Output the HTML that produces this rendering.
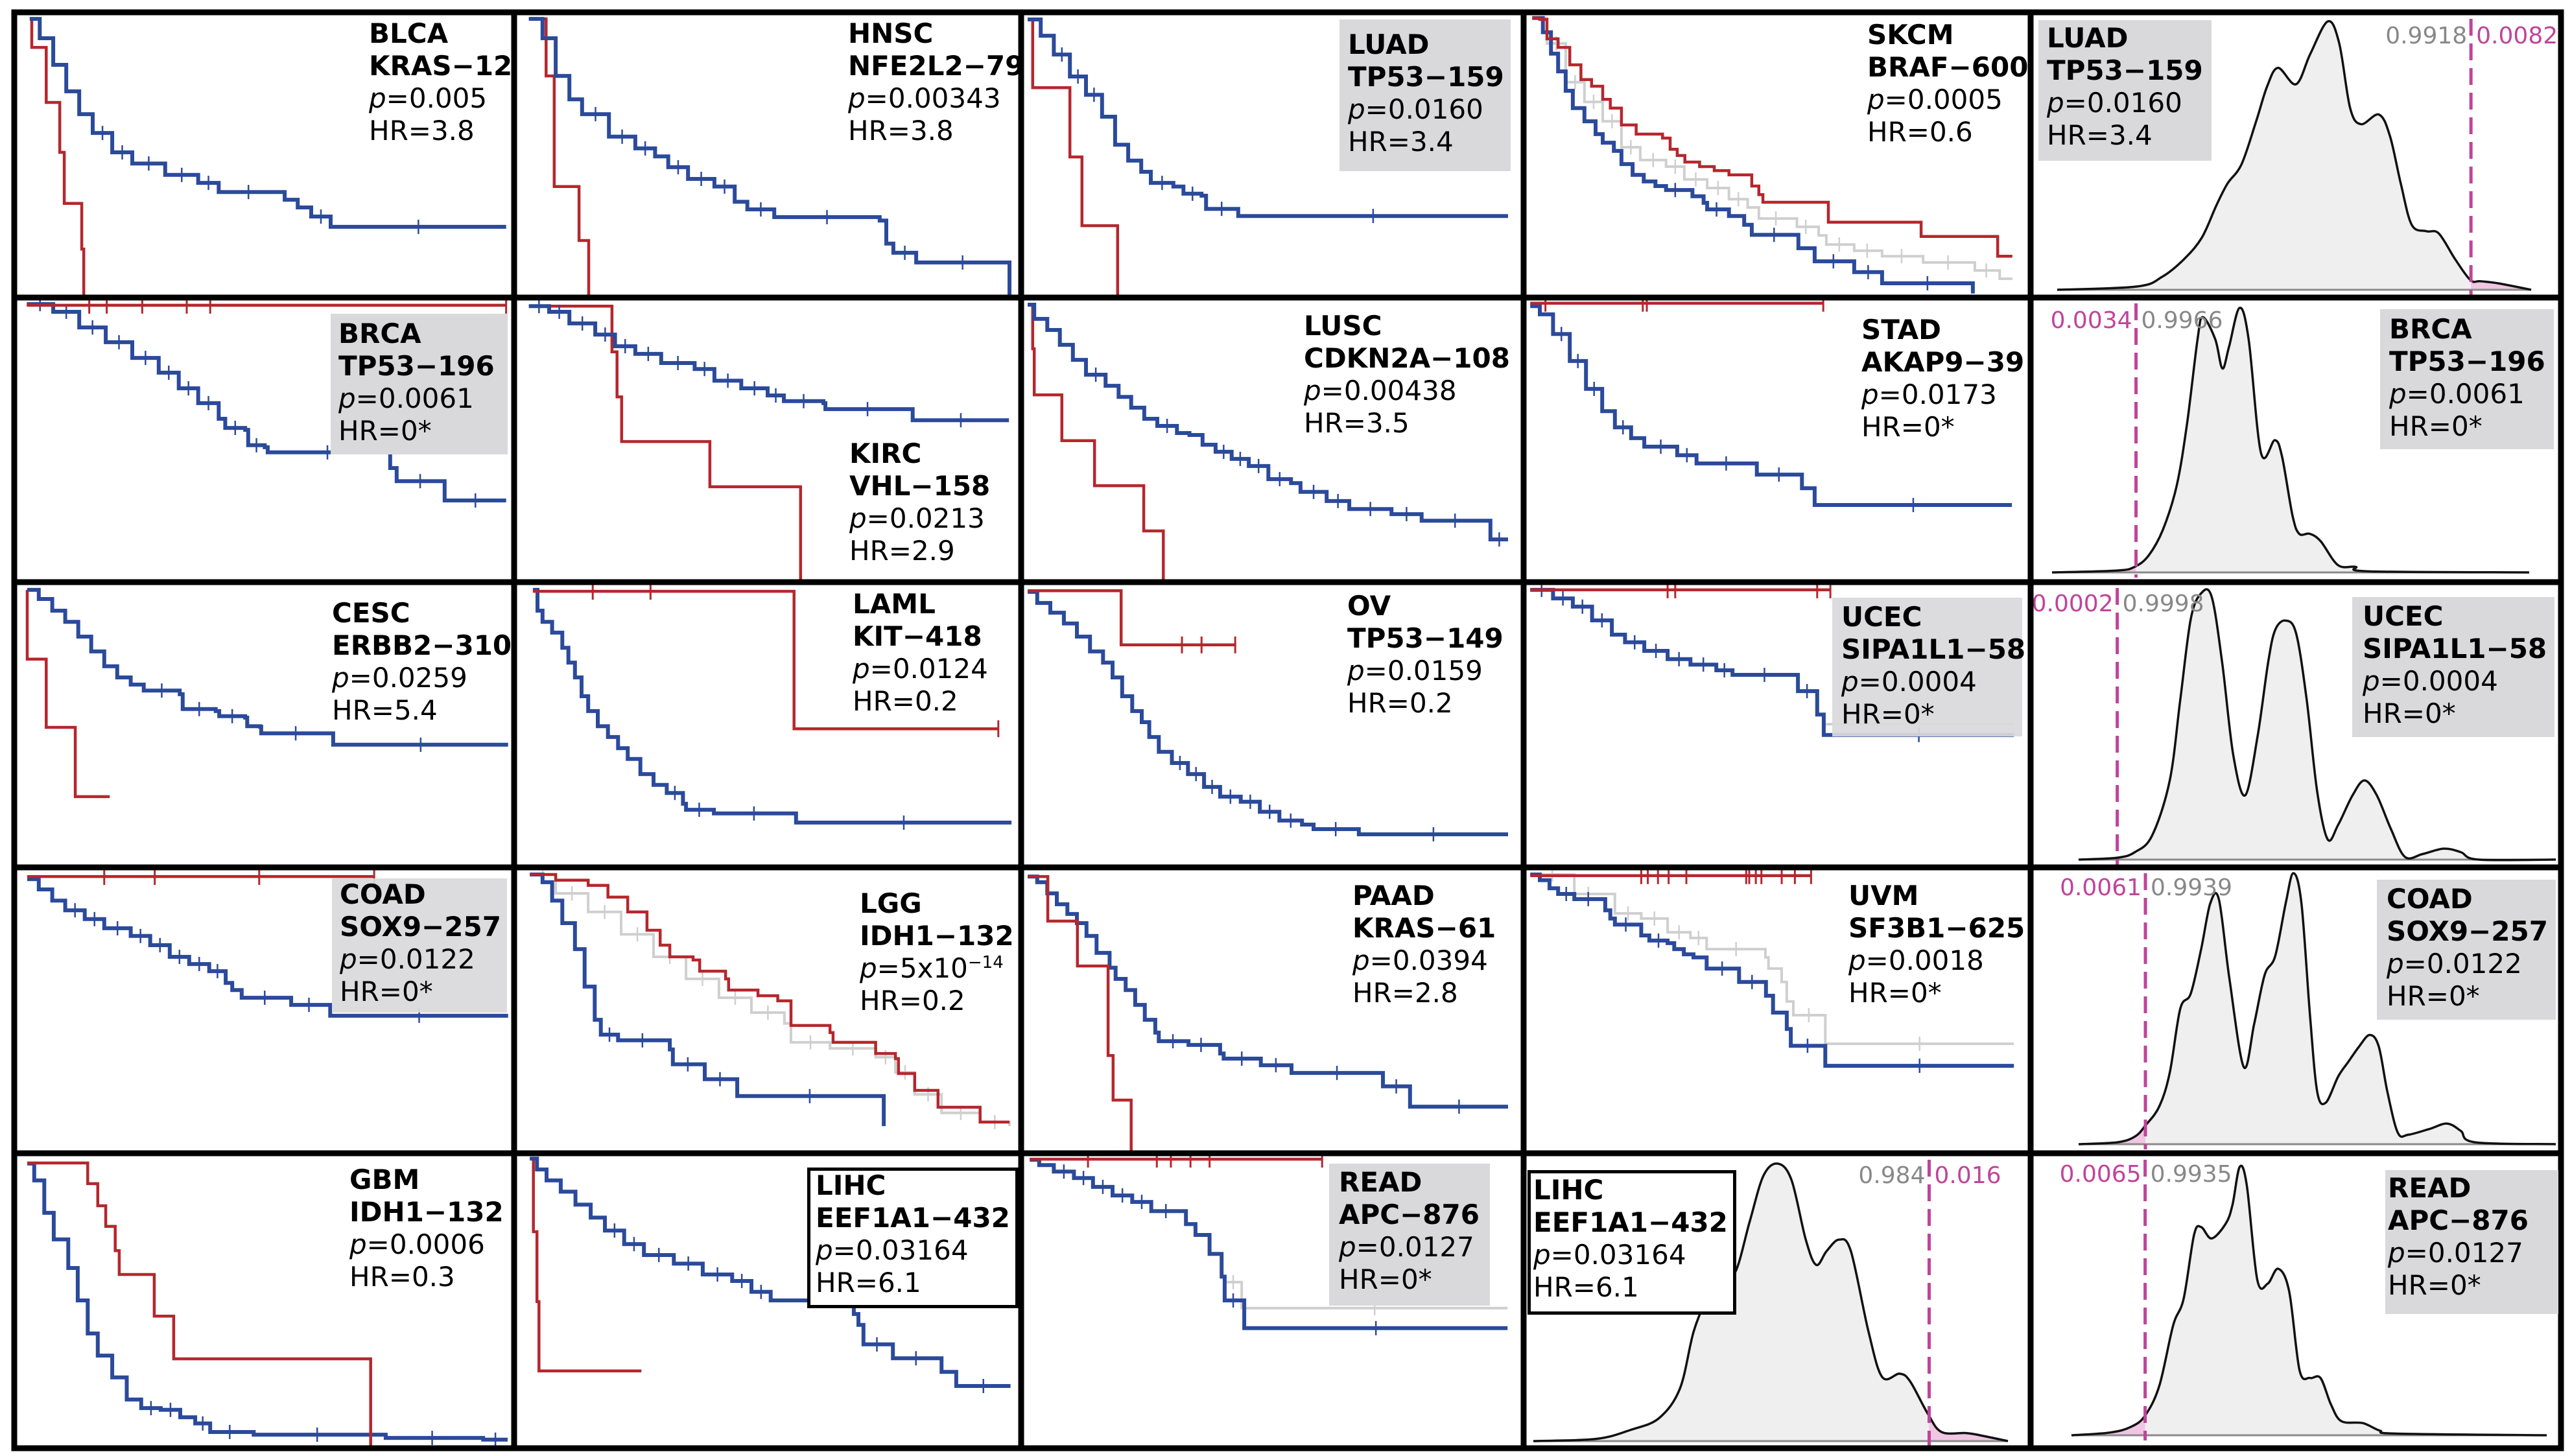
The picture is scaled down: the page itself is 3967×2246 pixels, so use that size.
<!DOCTYPE html>
<html><head><meta charset="utf-8">
<style>
html,body{margin:0;padding:0;background:#fff;}
#root{position:relative;width:3967px;height:2246px;overflow:hidden;background:#fff;}
svg{position:absolute;left:0;top:0;}
.lbl{position:absolute;font-family:"DejaVu Sans","Liberation Sans",sans-serif;font-size:42px;line-height:50px;color:#000;white-space:nowrap;}
.lbl b{font-weight:bold;}
.box{position:absolute;background:#d9d9db;}
.bbox{position:absolute;background:#fff;border:5px solid #000;box-sizing:border-box;}
</style></head>
<body>
<div id="root">
<svg id="chart" width="3967" height="2246" viewBox="0 0 3967 2246"></svg>

<div class="box" style="left:2066px;top:30px;width:264px;height:234px"></div>
<div class="box" style="left:3144px;top:31px;width:267px;height:217px"></div>
<div class="box" style="left:510px;top:484px;width:273px;height:217px"></div>
<div class="box" style="left:3671px;top:477px;width:268px;height:216px"></div>
<div class="box" style="left:2826px;top:922px;width:293px;height:214px;opacity:.93"></div>
<div class="box" style="left:3628px;top:921px;width:312px;height:216px"></div>
<div class="box" style="left:512px;top:1355px;width:270px;height:207px;opacity:.93"></div>
<div class="box" style="left:3666px;top:1357px;width:276px;height:216px"></div>
<div class="box" style="left:2050px;top:1795px;width:248px;height:219px"></div>
<div class="box" style="left:3679px;top:1805px;width:267px;height:222px"></div>
<div class="bbox" style="left:1245px;top:1801px;width:326px;height:217px"></div>
<div class="bbox" style="left:2356px;top:1805px;width:322px;height:223px"></div>

<div class="lbl" style="left:569px;top:27px"><b>BLCA</b><br><b>KRAS−12</b><br><i>p</i>=0.005<br>HR=3.8</div>
<div class="lbl" style="left:1308px;top:27px"><b>HNSC</b><br><b>NFE2L2−79</b><br><i>p</i>=0.00343<br>HR=3.8</div>
<div class="lbl" style="left:2079px;top:44px"><b>LUAD</b><br><b>TP53−159</b><br><i>p</i>=0.0160<br>HR=3.4</div>
<div class="lbl" style="left:2880px;top:29px"><b>SKCM</b><br><b>BRAF−600</b><br><i>p</i>=0.0005<br>HR=0.6</div>
<div class="lbl" style="left:3157px;top:34px"><b>LUAD</b><br><b>TP53−159</b><br><i>p</i>=0.0160<br>HR=3.4</div>

<div class="lbl" style="left:522px;top:490px"><b>BRCA</b><br><b>TP53−196</b><br><i>p</i>=0.0061<br>HR=0*</div>
<div class="lbl" style="left:1310px;top:675px"><b>KIRC</b><br><b>VHL−158</b><br><i>p</i>=0.0213<br>HR=2.9</div>
<div class="lbl" style="left:2011px;top:478px"><b>LUSC</b><br><b>CDKN2A−108</b><br><i>p</i>=0.00438<br>HR=3.5</div>
<div class="lbl" style="left:2871px;top:484px"><b>STAD</b><br><b>AKAP9−39</b><br><i>p</i>=0.0173<br>HR=0*</div>
<div class="lbl" style="left:3685px;top:483px"><b>BRCA</b><br><b>TP53−196</b><br><i>p</i>=0.0061<br>HR=0*</div>

<div class="lbl" style="left:512px;top:921px"><b>CESC</b><br><b>ERBB2−310</b><br><i>p</i>=0.0259<br>HR=5.4</div>
<div class="lbl" style="left:1315px;top:907px"><b>LAML</b><br><b>KIT−418</b><br><i>p</i>=0.0124<br>HR=0.2</div>
<div class="lbl" style="left:2078px;top:910px"><b>OV</b><br><b>TP53−149</b><br><i>p</i>=0.0159<br>HR=0.2</div>
<div class="lbl" style="left:2840px;top:927px"><b>UCEC</b><br><b>SIPA1L1−58</b><br><i>p</i>=0.0004<br>HR=0*</div>
<div class="lbl" style="left:3644px;top:926px"><b>UCEC</b><br><b>SIPA1L1−58</b><br><i>p</i>=0.0004<br>HR=0*</div>

<div class="lbl" style="left:524px;top:1355px"><b>COAD</b><br><b>SOX9−257</b><br><i>p</i>=0.0122<br>HR=0*</div>
<div class="lbl" style="left:1326px;top:1369px"><b>LGG</b><br><b>IDH1−132</b><br><i>p</i>=5x10<sup style="font-size:26px;line-height:0">−14</sup><br>HR=0.2</div>
<div class="lbl" style="left:2086px;top:1357px"><b>PAAD</b><br><b>KRAS−61</b><br><i>p</i>=0.0394<br>HR=2.8</div>
<div class="lbl" style="left:2851px;top:1357px"><b>UVM</b><br><b>SF3B1−625</b><br><i>p</i>=0.0018<br>HR=0*</div>
<div class="lbl" style="left:3681px;top:1362px"><b>COAD</b><br><b>SOX9−257</b><br><i>p</i>=0.0122<br>HR=0*</div>

<div class="lbl" style="left:539px;top:1795px"><b>GBM</b><br><b>IDH1−132</b><br><i>p</i>=0.0006<br>HR=0.3</div>
<div class="lbl" style="left:1258px;top:1804px"><b>LIHC</b><br><b>EEF1A1−432</b><br><i>p</i>=0.03164<br>HR=6.1</div>
<div class="lbl" style="left:2065px;top:1799px"><b>READ</b><br><b>APC−876</b><br><i>p</i>=0.0127<br>HR=0*</div>
<div class="lbl" style="left:2365px;top:1811px"><b>LIHC</b><br><b>EEF1A1−432</b><br><i>p</i>=0.03164<br>HR=6.1</div>
<div class="lbl" style="left:3683px;top:1808px"><b>READ</b><br><b>APC−876</b><br><i>p</i>=0.0127<br>HR=0*</div>
</div>

<script>
// ---------- grid layout ----------
const colEdges=[22,793,1575,2350,3132,3950];
const rowEdges=[19,459,898,1338,1779,2234];

// ---------- Kaplan–Meier data (t = fraction of time axis, s = survival fraction) ----------
const BLCA_blue_t=[.031,.051,.078,.104,.130,.157,.196,.236,.302,.368,.409,.528,.541,.567,.594,.633,.984];
const BLCA_blue_s=[.977,.909,.816,.723,.643,.577,.509,.470,.430,.402,.370,.370,.343,.316,.284,.248,.248];
const BLCA_red_t=[.031,.035,.064,.091,.100,.135,.139];
const BLCA_red_s=[.977,.877,.684,.509,.330,.170,0];

const HNSC_blue_t=[.029,.056,.082,.109,.134,.187,.239,.278,.304,.343,.395,.435,.460,.513,.721,.734,.748,.793,.976,.977];
const HNSC_blue_s=[.977,.909,.777,.695,.643,.564,.523,.495,.457,.416,.389,.336,.309,.282,.270,.189,.157,.123,.123,.009];
const HNSC_red_t=[.029,.063,.079,.128,.147];
const HNSC_red_s=[.977,.777,.389,.200,0];

const LUAD_blue_t=[.013,.039,.065,.097,.129,.161,.187,.213,.239,.258,.303,.323,.359,.368,.430,.432,.969];
const LUAD_blue_s=[.975,.918,.852,.775,.711,.634,.536,.480,.441,.402,.389,.364,.357,.311,.311,.286,.286];
const LUAD_red_t=[.013,.023,.097,.121,.192];
const LUAD_red_s=[.975,.736,.493,.252,0];

const SKCM_red_t=[.017,.032,.046,.068,.091,.113,.134,.156,.171,.193,.222,.274,.289,.303,.318,.347,.376,.405,.442,.450,.464,.472,.597,.601,.780,.784,.931,.935,.964];
const SKCM_red_s=[.98,.975,.907,.877,.816,.764,.741,.695,.664,.605,.573,.559,.52,.498,.475,.459,.445,.430,.430,.391,.361,.334,.334,.264,.264,.214,.214,.145,.145];
const SKCM_blue_t=[.017,.038,.054,.068,.083,.097,.120,.142,.156,.178,.193,.215,.237,.260,.281,.317,.333,.355,.362,.399,.405,.435,.450,.538,.542,.571,.574,.648,.652,.707,.707,.886,.886];
const SKCM_blue_s=[.98,.93,.855,.793,.725,.664,.618,.573,.543,.514,.468,.43,.407,.391,.377,.377,.355,.332,.309,.309,.286,.255,.220,.220,.173,.173,.127,.127,.089,.089,.05,.05,.014];
const SKCM_grey_t=[.017,.046,.083,.120,.156,.193,.230,.281,.317,.362,.405,.442,.464,.531,.539,.574,.582,.597,.648,.652,.703,.707,.784,.788,.886,.890,.935,.939,.964];
const SKCM_grey_s=[.98,.891,.755,.686,.618,.527,.482,.459,.414,.384,.345,.316,.277,.277,.248,.248,.218,.186,.186,.164,.164,.145,.145,.123,.123,.095,.095,.066,.066];

const BRCA_blue_t=[.025,.078,.130,.183,.236,.289,.329,.368,.409,.422,.462,.468,.501,.507,.746,.752,.765,.859,.861,.984];
const BRCA_blue_s=[.977,.950,.895,.843,.788,.736,.681,.629,.574,.542,.535,.481,.474,.456,.456,.401,.355,.355,.287,.287];
const BRCA_red_t=[.025,.984];
const BRCA_red_s=[.973,.973];
const BRCA_red_ticks=[.150,.185,.256,.345,.392,.984];

const KIRC_blue_t=[.029,.069,.109,.160,.199,.239,.290,.356,.395,.448,.500,.532,.610,.614,.780,.786,.976];
const KIRC_blue_s=[.970,.950,.909,.870,.829,.802,.770,.749,.708,.681,.656,.636,.629,.608,.608,.569,.569];
const KIRC_red_t=[.029,.193,.203,.212,.386,.565];
const KIRC_red_s=[.970,.809,.651,.494,.335,0];

const LUSC_blue_t=[.013,.026,.052,.077,.103,.129,.168,.194,.219,.245,.271,.310,.335,.361,.387,.419,.453,.492,.537,.556,.608,.653,.737,.797,.930,.934,.969];
const LUSC_blue_s=[.975,.925,.886,.834,.781,.729,.690,.651,.613,.574,.549,.524,.517,.483,.458,.433,.408,.362,.348,.317,.285,.257,.239,.216,.216,.150,.150];
const LUSC_red_t=[.013,.023,.026,.081,.146,.244,.283];
const LUSC_red_s=[.975,.820,.658,.497,.339,.180,0];

const STAD_blue_t=[.013,.032,.058,.091,.123,.155,.180,.212,.238,.303,.341,.458,.460,.547,.549,.573,.574,.963];
const STAD_blue_s=[.970,.941,.872,.777,.679,.601,.544,.506,.476,.446,.417,.417,.378,.378,.330,.330,.271,.271];
const STAD_red_t=[.013,.591];
const STAD_red_s=[.98,.98];
const STAD_red_ticks=[.043,.235,.243,.591];

const CESC_blue_t=[.026,.049,.076,.102,.128,.154,.180,.206,.233,.259,.331,.337,.403,.410,.462,.466,.492,.494,.632,.638,.988];
const CESC_blue_s=[.973,.941,.900,.861,.809,.757,.705,.666,.641,.620,.607,.555,.548,.530,.525,.495,.493,.470,.470,.430,.430];
const CESC_red_t=[.026,.026,.064,.122,.191];
const CESC_red_s=[.973,.730,.491,.248,.248];

const LAML_blue_t=[.037,.046,.056,.075,.095,.107,.120,.133,.146,.165,.185,.205,.224,.249,.275,.301,.333,.339,.391,.394,.552,.556,.981];
const LAML_blue_s=[.973,.900,.861,.823,.770,.718,.666,.600,.548,.495,.457,.418,.380,.327,.289,.261,.223,.202,.202,.189,.189,.157,.157];
const LAML_red_t=[.037,.552,.955];
const LAML_red_s=[.968,.486,.486];
const LAML_red_ticks=[.155,.269,.955];

const OV_blue_t=[.013,.032,.058,.085,.111,.137,.163,.182,.201,.221,.240,.255,.274,.300,.332,.364,.396,.437,.475,.514,.559,.582,.670,.672,.969];
const OV_blue_s=[.966,.927,.893,.855,.809,.757,.718,.666,.600,.548,.509,.457,.405,.366,.327,.282,.248,.230,.195,.164,.150,.134,.134,.116,.116];
const OV_red_t=[.013,.199,.428];
const OV_red_s=[.970,.780,.780];
const OV_red_ticks=[.320,.359,.426];

const UCEC_blue_t=[.013,.058,.097,.135,.174,.200,.238,.284,.329,.380,.412,.538,.541,.577,.579,.592,.967];
const UCEC_blue_s=[.973,.943,.914,.866,.816,.789,.759,.730,.711,.691,.675,.675,.618,.618,.536,.464,.464];
const UCEC_grey_t=[.579,.592,.967];
const UCEC_grey_s=[.536,.502,.502];
const UCEC_red_t=[.013,.605];
const UCEC_red_s=[.973,.973];
const UCEC_red_ticks=[.284,.299,.579,.605];

const COAD_blue_t=[.026,.049,.076,.102,.141,.180,.233,.272,.311,.350,.390,.423,.436,.455,.547,.554,.625,.632,.988];
const COAD_blue_s=[.959,.923,.884,.850,.819,.787,.760,.728,.687,.662,.637,.596,.571,.544,.544,.519,.519,.481,.481];
const COAD_red_t=[.026,.720];
const COAD_red_s=[.968,.968];
const COAD_red_ticks=[.180,.281,.490,.720];

const LGG_red_t=[.031,.082,.146,.185,.224,.262,.288,.307,.353,.366,.417,.423,.481,.520,.546,.623,.629,.707,.713,.752,.758,.784,.790,.830,.836,.913,.919,.977];
const LGG_red_s=[.975,.955,.937,.896,.844,.780,.728,.687,.676,.637,.610,.571,.551,.533,.447,.422,.388,.388,.349,.331,.279,.279,.220,.220,.161,.161,.109,.109];
const LGG_blue_t=[.031,.056,.075,.095,.120,.139,.159,.171,.205,.301,.307,.313,.372,.376,.436,.440,.726,.729];
const LGG_blue_s=[.975,.948,.884,.805,.714,.583,.467,.415,.395,.395,.363,.311,.311,.259,.259,.200,.200,.095];
const LGG_grey_t=[.031,.082,.146,.211,.275,.339,.404,.468,.533,.546,.623,.713,.752,.790,.843,.919,.977];
const LGG_grey_s=[.975,.909,.844,.766,.687,.610,.544,.492,.454,.388,.367,.336,.283,.206,.141,.109,.095];

const PAAD_blue_t=[.013,.032,.052,.071,.092,.111,.130,.150,.176,.188,.208,.227,.246,.267,.274,.330,.333,.383,.396,.403,.475,.477,.537,.538,.719,.720,.773,.774,.969];
const PAAD_blue_s=[.968,.948,.909,.871,.837,.805,.760,.701,.649,.610,.571,.519,.467,.422,.392,.392,.379,.379,.349,.331,.331,.308,.308,.281,.281,.234,.234,.163,.163];
const PAAD_red_t=[.013,.053,.112,.173,.183,.219];
const PAAD_red_s=[.968,.812,.655,.342,.186,0];

const UVM_blue_t=[.013,.032,.051,.068,.100,.155,.161,.171,.180,.223,.232,.248,.284,.297,.316,.335,.361,.422,.425,.476,.478,.492,.514,.519,.527,.593,.595,.967];
const UVM_blue_s=[.975,.955,.927,.907,.889,.889,.850,.821,.800,.800,.762,.744,.735,.714,.696,.685,.646,.646,.599,.599,.551,.492,.492,.435,.376,.376,.306,.306];
const UVM_grey_t=[.013,.100,.155,.180,.232,.284,.329,.361,.477,.483,.509,.519,.532,.593,.595,.967];
const UVM_grey_s=[.975,.907,.907,.839,.821,.773,.753,.714,.685,.646,.599,.531,.483,.483,.383,.383];
const UVM_red_t=[.013,.567];
const UVM_red_s=[.971,.971];
const UVM_red_ticks=[.232,.245,.265,.286,.321,.439,.445,.458,.469,.509,.535,.567];

const GBM_blue_t=[.026,.040,.060,.079,.108,.127,.147,.167,.196,.225,.254,.293,.332,.362,.392,.470,.479,.733,.743,.929,.938,.987];
const GBM_blue_s=[.965,.908,.798,.708,.611,.501,.389,.314,.240,.165,.136,.130,.105,.084,.055,.055,.046,.046,.035,.035,.029,.029];
const GBM_red_t=[.026,.147,.167,.183,.202,.210,.280,.319,.713];
const GBM_red_s=[.967,.897,.822,.752,.670,.589,.448,.303,0];

const LIHC_blue_t=[.031,.045,.064,.092,.121,.151,.179,.217,.256,.315,.372,.430,.468,.506,.660,.670,.679,.689,.742,.747,.838,.843,.868,.872,.979];
const LIHC_blue_s=[.982,.945,.908,.870,.826,.782,.738,.692,.655,.626,.589,.567,.530,.501,.492,.455,.418,.352,.352,.305,.305,.259,.259,.211,.211];
const LIHC_red_t=[.031,.038,.045,.049,.251];
const LIHC_red_s=[.982,.734,.497,.262,.262];

const READ_blue_t=[.017,.036,.065,.105,.143,.182,.221,.259,.317,.328,.347,.375,.399,.405,.439,.444,.968];
const READ_blue_s=[.978,.960,.938,.916,.886,.857,.835,.804,.804,.760,.723,.659,.582,.501,.501,.407,.407];
const READ_grey_t=[.405,.439,.968];
const READ_grey_s=[.563,.475,.475];
const READ_red_t=[.017,.599];
const READ_red_s=[.980,.980];
const READ_red_ticks=[.133,.270,.298,.337,.375,.599];

// ---------- density data (u = fraction of x range, h = relative density) ----------
const LUAD_dens_u=[0,.168,.221,.267,.305,.336,.359,.389,.420,.443,.466,.504,.534,.571,.595,.618,.641,.679,.702,.725,.748,.779,.805,.840,.872,.893,.931,1];
const LUAD_dens_h=[0,.012,.048,.113,.194,.315,.395,.468,.629,.758,.827,.766,.879,1,.919,.677,.617,.653,.573,.395,.242,.218,.210,.113,.036,.032,.024,0];
const BRCA_dens_u=[0,.136,.173,.202,.232,.261,.283,.305,.316,.342,.357,.371,.393,.412,.438,.467,.482,.504,.518,.540,.563,.599,.636,.665,1];
const BRCA_dens_h=[0,.007,.021,.063,.160,.326,.563,.882,.965,.882,.771,.854,1,.882,.451,.5,.438,.215,.146,.146,.118,.028,.021,.004,0];
const UCEC_dens_u=[0,.081,.118,.154,.191,.213,.235,.257,.279,.301,.324,.349,.375,.397,.412,.434,.456,.478,.5,.522,.544,.574,.599,.625,.654,.684,.721,.765,.801,.838,1];
const UCEC_dens_h=[0,.007,.028,.090,.297,.6,.903,1,.986,.738,.393,.241,.462,.738,.862,.897,.848,.6,.255,.076,.131,.241,.297,.241,.117,.010,.021,.041,.028,0,0];
const COAD_dens_u=[0,.081,.118,.140,.169,.191,.213,.235,.257,.276,.294,.316,.346,.368,.390,.412,.434,.45,.467,.485,.5,.518,.544,.566,.588,.610,.629,.647,.669,.691,.735,.772,.801,.831,1];
const COAD_dens_h=[0,.007,.028,.069,.139,.264,.5,.556,.722,.889,.903,.611,.285,.444,.625,.694,.889,1,.889,.472,.194,.153,.25,.306,.361,.403,.361,.194,.042,.035,.056,.076,.049,.007,0];
const READ_dens_u=[0,.081,.125,.155,.185,.214,.236,.258,.273,.295,.325,.339,.354,.369,.391,.413,.435,.458,.480,.502,.524,.546,.568,.613,.649,.686,1];
const READ_dens_h=[0,.010,.031,.073,.184,.407,.505,.742,.770,.728,.784,.854,.993,.923,.575,.561,.616,.533,.240,.212,.212,.114,.052,.045,.017,.006,0];
const LIHC_dens_u=[0,.132,.206,.265,.309,.338,.368,.397,.426,.456,.485,.515,.544,.574,.596,.618,.644,.669,.706,.735,.772,.794,.831,.860,.912,.941,1];
const LIHC_dens_h=[0,.008,.041,.083,.190,.396,.520,.594,.611,.792,.957,1,.941,.726,.635,.685,.726,.685,.396,.231,.243,.215,.099,.033,.029,.021,0];

// thresholds and fractions
const densThresh={LUAD:.873,BRCA:.176,UCEC:.081,COAD:.140,READ:.155,LIHC:.834};
const densLabels={LUAD:["0.9918","0.0082"],BRCA:["0.0034","0.9966"],UCEC:["0.0002","0.9998"],COAD:["0.0061","0.9939"],READ:["0.0065","0.9935"],LIHC:["0.984","0.016"]};

const NS="http://www.w3.org/2000/svg";
const svg=document.getElementById('chart');
function el(tag,attrs,parent){const e=document.createElementNS(NS,tag);for(const k in attrs)e.setAttribute(k,attrs[k]);(parent||svg).appendChild(e);return e;}

function cell(c,r){return {x:colEdges[c],y:rowEdges[r],w:colEdges[c+1]-colEdges[c],h:rowEdges[r+1]-rowEdges[r]};}
function X(cl,t){return cl.x+t*cl.w;}
function Y(cl,s){return cl.y+cl.h-s*cl.h;}
function stepD(cl,t,s){let d='M'+X(cl,t[0]).toFixed(1)+','+Y(cl,s[0]).toFixed(1);for(let i=1;i<t.length;i++){d+='H'+X(cl,t[i]).toFixed(1)+'V'+Y(cl,s[i]).toFixed(1);}return d;}

const COLORS={blue:'#2b4a9b',red:'#b5272d',grey:'#cfcfcf'};
const WIDTHS={blue:6,red:4.5,grey:4};

function drawCurve(cl,name,kind,t,s,ticks){
  const p=el('path',{d:stepD(cl,t,s),fill:'none',stroke:COLORS[kind],'stroke-width':WIDTHS[kind],'stroke-linejoin':'miter'});
  
  
  if(ticks){
    ticks.forEach(tt=>{
      let sv=s[0];for(let i=0;i<t.length;i++){if(t[i]<=tt)sv=s[i];}
      const tk=el('line',{x1:X(cl,tt),x2:X(cl,tt),y1:Y(cl,sv)-13,y2:Y(cl,sv)+13,stroke:COLORS[kind],'stroke-width':3});
      
      
    });
  }
  // censor ticks along blue/grey curves at their plateau vertices
  if(kind!=='red'){
    for(let i=1;i<t.length;i++){
      if(t[i]-t[i-1]>0.03){
        const mx=X(cl,(t[i-1]+t[i])/2);
        const tk=el('line',{x1:mx,x2:mx,y1:Y(cl,s[i-1])-11,y2:Y(cl,s[i-1])+11,stroke:COLORS[kind],'stroke-width':2.5});
        
        
      }
    }
  }
}

const kmPanels=[
 ['blca',0,0,[['grey',null],['red',[BLCA_red_t,BLCA_red_s]],['blue',[BLCA_blue_t,BLCA_blue_s]]]],
 ['hnsc',1,0,[['red',[HNSC_red_t,HNSC_red_s]],['blue',[HNSC_blue_t,HNSC_blue_s]]]],
 ['luad',2,0,[['red',[LUAD_red_t,LUAD_red_s]],['blue',[LUAD_blue_t,LUAD_blue_s]]]],
 ['skcm',3,0,[['grey',[SKCM_grey_t,SKCM_grey_s]],['blue',[SKCM_blue_t,SKCM_blue_s]],['red',[SKCM_red_t,SKCM_red_s]]]],
 ['brca',0,1,[['blue',[BRCA_blue_t,BRCA_blue_s]],['red',[BRCA_red_t,BRCA_red_s,BRCA_red_ticks]]]],
 ['kirc',1,1,[['red',[KIRC_red_t,KIRC_red_s]],['blue',[KIRC_blue_t,KIRC_blue_s]]]],
 ['lusc',2,1,[['red',[LUSC_red_t,LUSC_red_s]],['blue',[LUSC_blue_t,LUSC_blue_s]]]],
 ['stad',3,1,[['blue',[STAD_blue_t,STAD_blue_s]],['red',[STAD_red_t,STAD_red_s,STAD_red_ticks]]]],
 ['cesc',0,2,[['red',[CESC_red_t,CESC_red_s]],['blue',[CESC_blue_t,CESC_blue_s]]]],
 ['laml',1,2,[['blue',[LAML_blue_t,LAML_blue_s]],['red',[LAML_red_t,LAML_red_s,LAML_red_ticks]]]],
 ['ov',2,2,[['blue',[OV_blue_t,OV_blue_s]],['red',[OV_red_t,OV_red_s,OV_red_ticks]]]],
 ['ucec',3,2,[['grey',[UCEC_grey_t,UCEC_grey_s]],['blue',[UCEC_blue_t,UCEC_blue_s]],['red',[UCEC_red_t,UCEC_red_s,UCEC_red_ticks]]]],
 ['coad',0,3,[['blue',[COAD_blue_t,COAD_blue_s]],['red',[COAD_red_t,COAD_red_s,COAD_red_ticks]]]],
 ['lgg',1,3,[['grey',[LGG_grey_t,LGG_grey_s]],['blue',[LGG_blue_t,LGG_blue_s]],['red',[LGG_red_t,LGG_red_s]]]],
 ['paad',2,3,[['blue',[PAAD_blue_t,PAAD_blue_s]],['red',[PAAD_red_t,PAAD_red_s]]]],
 ['uvm',3,3,[['grey',[UVM_grey_t,UVM_grey_s]],['blue',[UVM_blue_t,UVM_blue_s]],['red',[UVM_red_t,UVM_red_s,UVM_red_ticks]]]],
 ['gbm',0,4,[['blue',[GBM_blue_t,GBM_blue_s]],['red',[GBM_red_t,GBM_red_s]]]],
 ['lihc',1,4,[['red',[LIHC_red_t,LIHC_red_s]],['blue',[LIHC_blue_t,LIHC_blue_s]]]],
 ['read',2,4,[['grey',[READ_grey_t,READ_grey_s]],['blue',[READ_blue_t,READ_blue_s]],['red',[READ_red_t,READ_red_s,READ_red_ticks]]]]
];
kmPanels.forEach(([name,c,r,curves])=>{
  const cl=cell(c,r);
  curves.forEach(([kind,arr])=>{ if(arr) drawCurve(cl,name,kind,arr[0],arr[1],arr[2]); });
});

// ---------- density panels ----------
function smoothD(pts){
  let d='M'+pts[0][0]+','+pts[0][1];
  for(let i=0;i<pts.length-1;i++){
    const p0=pts[Math.max(0,i-1)],p1=pts[i],p2=pts[i+1],p3=pts[Math.min(pts.length-1,i+2)];
    const c1x=p1[0]+(p2[0]-p0[0])/6,c1y=p1[1]+(p2[1]-p0[1])/6;
    const c2x=p2[0]-(p3[0]-p1[0])/6,c2y=p2[1]-(p3[1]-p1[1])/6;
    d+=`C${c1x.toFixed(1)},${c1y.toFixed(1)} ${c2x.toFixed(1)},${c2y.toFixed(1)} ${p2[0].toFixed(1)},${p2[1].toFixed(1)}`;
  }
  return d;
}
const densPanels=[
 ['LUAD',LUAD_dens_u,LUAD_dens_h,{x0:3173,x1:3904,base:447,top:33,ytop:29,side:'right',lblY:67}],
 ['BRCA',BRCA_dens_u,BRCA_dens_h,{x0:3165,x1:3901,base:883,top:475,ytop:468,side:'left',lblY:506}],
 ['UCEC',UCEC_dens_u,UCEC_dens_h,{x0:3206,x1:3942,base:1326,top:915,ytop:907,side:'left',lblY:943}],
 ['COAD',COAD_dens_u,COAD_dens_h,{x0:3206,x1:3942,base:1765,top:1347,ytop:1347,side:'left',lblY:1381}],
 ['READ',READ_dens_u,READ_dens_h,{x0:3195,x1:3928,base:2214,top:1797,ytop:1789,side:'left',lblY:1823}],
 ['LIHC',LIHC_dens_u,LIHC_dens_h,{x0:2365,x1:3097,base:2223,top:1795,ytop:1789,side:'right',lblY:1825}]
];
let clipId=0;
densPanels.forEach(([name,u,h,g])=>{
  const nm=name.toLowerCase();
  const px=v=>g.x0+v*(g.x1-g.x0);
  const py=v=>g.base-v*(g.base-g.top);
  const pts=u.map((v,i)=>[px(v),py(h[i])]);
  const curve=smoothD(pts);
  const area=curve+`L${px(1)},${g.base}L${px(0)},${g.base}Z`;
  const a=el('path',{d:area,fill:'#efefef',stroke:'none'});
  
  
  const thx=px(densThresh[name]);
  const id='clip'+(clipId++);
  const cp=el('clipPath',{id:id});
  if(g.side==='right') el('rect',{x:thx,y:g.top-20,width:g.x1-thx+10,height:g.base-g.top+30},cp);
  else el('rect',{x:g.x0-10,y:g.top-20,width:thx-g.x0+10,height:g.base-g.top+30},cp);
  const pk=el('path',{d:area,fill:'#f0c6e2',stroke:'none','clip-path':`url(#${id})`});
  
  
  const bl=el('line',{x1:px(0),x2:px(1),y1:g.base,y2:g.base,stroke:'#8a8a8a','stroke-width':3});
  
  
  const ln=el('path',{d:curve,fill:'none',stroke:'#111','stroke-width':3.5});
  
  
  const dl=el('line',{x1:thx,x2:thx,y1:g.ytop,y2:g.base+8,stroke:'#c0449a','stroke-width':5,'stroke-dasharray':'26,12'});
  
  
  const [lt,rt]=densLabels[name];
  const leftCol=(g.side==='right')?'#888':'#c0449a';
  const rightCol=(g.side==='right')?'#c0449a':'#888';
  const t1=el('text',{x:thx-6,y:g.lblY,'text-anchor':'end','font-family':'DejaVu Sans, Liberation Sans, sans-serif','font-size':36,fill:leftCol});
  t1.textContent=lt;
  
  
  const t2=el('text',{x:thx+8,y:g.lblY,'text-anchor':'start','font-family':'DejaVu Sans, Liberation Sans, sans-serif','font-size':36,fill:rightCol});
  t2.textContent=rt;
  
  
});

// ---------- grid lines ----------
colEdges.forEach((x,i)=>{
  const l=el('rect',{x:x-4.5,y:rowEdges[0]-4.5,width:9,height:rowEdges[5]-rowEdges[0]+9,fill:'#000'});
  
  
});
rowEdges.forEach((y,i)=>{
  const l=el('rect',{x:colEdges[0]-4.5,y:y-4.5,width:colEdges[5]-colEdges[0]+9,height:9,fill:'#000'});
  
  
});
</script>
</body></html>
